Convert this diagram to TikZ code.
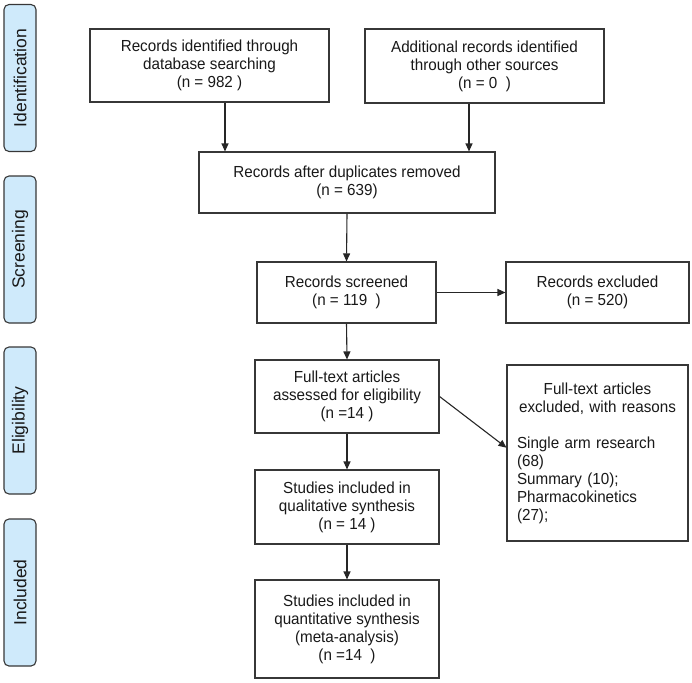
\documentclass[tikz,border=0pt]{standalone}
\usepackage{fontspec}
\setmainfont{Liberation Sans}
\newfontfamily\boxfont[FakeStretch=0.95]{Liberation Sans}
\usetikzlibrary{arrows.meta,calc}
\definecolor{barfill}{RGB}{207,234,251}
\definecolor{lnc}{RGB}{55,55,55}
\definecolor{txc}{RGB}{25,25,25}
\tikzset{
  box/.style={draw=lnc, line width=1.1pt, fill=white, rectangle, align=center,
    text=txc, inner sep=2pt, font=\boxfont\fontsize{16}{18}\selectfont},
  bar/.style={draw=lnc, line width=1.1pt, fill=barfill, rectangle, rounded corners=5pt,
    minimum width=32pt, minimum height=147pt},
  bartext/.style={rotate=90, text=txc, font=\fontsize{17.5}{20}\selectfont},
  arr/.style={draw=black!85, line width=1.1pt, -{Triangle[length=8pt,width=7pt]}}
}
\begin{document}
\begin{tikzpicture}[x=1pt,y=-1pt]
\useasboundingbox (0,0) rectangle (692,682);
% side bars
\node[bar] (s1) at (20,78) {};
\node[bartext] (t1) at (s1.center) {Identification};
\node[bar] (s2) at (20,249.5) {};
\node[bartext] (t2) at (s2.center) {Screening};
\node[bar] (s3) at (20,420.5) {};
\node[bartext] (t3) at (s3.center) {Eligibility};
\node[bar] (s4) at (20,592.5) {};
\node[bartext] (t4) at (s4.center) {Included};
% boxes
\node[box, minimum width=239pt, minimum height=73pt] (b1) at (209.5,65.5)
  {Records identified through\\database searching\\(n = 982 )};
\node[box, minimum width=239pt, minimum height=74pt] (b2) at (484.5,66)
  {Additional records identified\\through other sources\\(n = 0\ \ )};
\node[box, minimum width=296pt, minimum height=61pt] (b3) at (347,182.5)
  {Records after duplicates removed\\(n = 639)};
\node[box, minimum width=179pt, minimum height=61pt] (b4) at (346.5,292.5)
  {Records screened\\(n = 119\ \ )};
\node[box, minimum width=183pt, minimum height=61pt] (b6) at (597.5,292.5)
  {Records excluded\\(n = 520)};
\node[box, minimum width=184pt, minimum height=73pt] (b5) at (347,396.5)
  {Full-text articles\\assessed for eligibility\\(n =14 )};
\node[box, minimum width=181pt, minimum height=176pt, text width=161pt, inner xsep=10pt, align=left] (b7) at (597.5,453)
  {\makebox[161pt]{Full-text articles}\\\makebox[161pt]{excluded, with reasons}\\[18pt]
   Single arm research\\(68)\\Summary (10);\\Pharmacokinetics\\(27);\\[10pt]};
\node[box, minimum width=184pt, minimum height=74pt] (b8) at (347,507)
  {Studies included in\\qualitative synthesis\\(n = 14 )};
\node[box, minimum width=184pt, minimum height=98pt] (b9) at (347,629)
  {Studies included in\\quantitative synthesis\\(meta-analysis)\\(n =14\ \ )};
% connectors
\coordinate (a1) at (225,0);
\coordinate (a2) at (469,0);
\draw[arr] (b1.south -| a1) -- (b3.north -| a1);
\draw[arr] (b2.south -| a2) -- (b3.north -| a2);
\draw[arr] (b3.south) -- (b4.north);
\draw[arr] (b4.east) -- (b6.west);
\draw[arr] (b4.south) -- (b5.north);
\draw[arr] (b5.east) -- ($(b7.north west)!0.47!(b7.south west)$);
\draw[arr] (b5.south) -- (b8.north);
\draw[arr] (b8.south) -- (b9.north);
\end{tikzpicture}
\end{document}
